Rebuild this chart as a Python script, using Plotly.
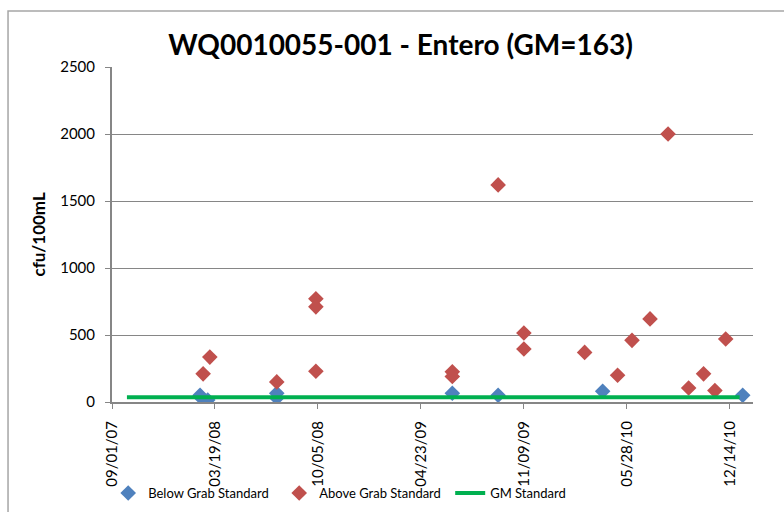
import plotly.graph_objects as go

below_dates = ["2008-02-19", "2008-02-23", "2008-03-05", "2008-07-17", "2008-07-17",
               "2009-06-23", "2009-09-20", "2010-04-11", "2011-01-08"]
below_vals = [50, 25, 15, 65, 30, 65, 50, 80, 50]

above_dates = ["2008-02-25", "2008-03-09", "2008-07-17", "2008-10-01", "2008-10-01", "2008-10-01",
               "2009-06-23", "2009-06-23", "2009-09-20", "2009-11-09", "2009-11-09",
               "2010-03-07", "2010-05-10", "2010-06-07", "2010-07-12", "2010-08-16",
               "2010-09-25", "2010-10-24", "2010-11-15", "2010-12-06"]
above_vals = [210, 335, 150, 770, 710, 230,
              225, 190, 1620, 515, 395,
              370, 200, 460, 620, 2000,
              105, 210, 85, 470]

gm_dates = ["2007-09-30", "2011-01-02"]
gm_vals = [35, 35]

FONT = "Lato, Open Sans, Arial"

fig = go.Figure()
fig.add_trace(go.Scatter(x=below_dates, y=below_vals, mode="markers", name="Below Grab Standard",
                         marker=dict(symbol="diamond", size=12, color="#4F81BD")))
fig.add_trace(go.Scatter(x=above_dates, y=above_vals, mode="markers", name="Above Grab Standard",
                         marker=dict(symbol="diamond", size=12, color="#C0504D")))
fig.add_trace(go.Scatter(x=gm_dates, y=gm_vals, mode="lines", name="GM Standard",
                         line=dict(color="#00B050", width=4)))

fig.update_layout(
    width=784, height=512,
    margin=dict(l=112, r=31, t=67, b=110, autoexpand=False),
    paper_bgcolor="white", plot_bgcolor="white",
    font=dict(family=FONT, size=13, color="black"),
    title=dict(text="<b>WQ0010055-001 - Entero (GM=163)</b>", x=0.511, xref="container",
               xanchor="center", y=0.912, yanchor="middle", font=dict(size=28, family=FONT)),
    showlegend=True,
    legend=dict(orientation="h", xref="container", x=0.138, xanchor="left",
                yref="container", y=0.037, yanchor="middle",
                font=dict(size=13), itemwidth=30, entrywidth=126, entrywidthmode="pixels",
                tracegroupgap=0, bgcolor="rgba(0,0,0,0)"),
    xaxis=dict(type="date", range=["2007-09-01", "2011-01-28"], automargin=False,
               tick0="2007-09-01", dtick=200 * 86400000, tickformat="%m/%d/%y",
               tickangle=-90, showgrid=False, showline=True, linecolor="#868686", linewidth=2,
               ticks="outside", ticklen=5, tickcolor="#868686", zeroline=False,
               ticklabelstandoff=6, tickfont=dict(size=15)),
    yaxis=dict(range=[0, 2500], dtick=500, showgrid=True, gridcolor="#868686", gridwidth=1,
               automargin=False,
               showline=True, linecolor="#868686", linewidth=2, ticks="outside", ticklen=5,
               tickcolor="#868686", zeroline=False, ticklabelstandoff=7, tickfont=dict(size=15)),
    annotations=[dict(text="<b>cfu/100mL</b>", xref="paper", yref="paper",
                      x=-0.1154, y=0.5, textangle=-90, showarrow=False,
                      xanchor="center", yanchor="middle", font=dict(size=17))],
    shapes=[dict(type="rect", xref="paper", yref="paper", x0=-0.1622, x1=1.2, y0=-0.5, y1=1.167,
                 line=dict(color="#A6A6A6", width=1.5), fillcolor="rgba(0,0,0,0)", layer="below")],
)

fig.write_html("out.html", config={"displayModeBar": False},
               post_script="document.body.style.margin='0';")
